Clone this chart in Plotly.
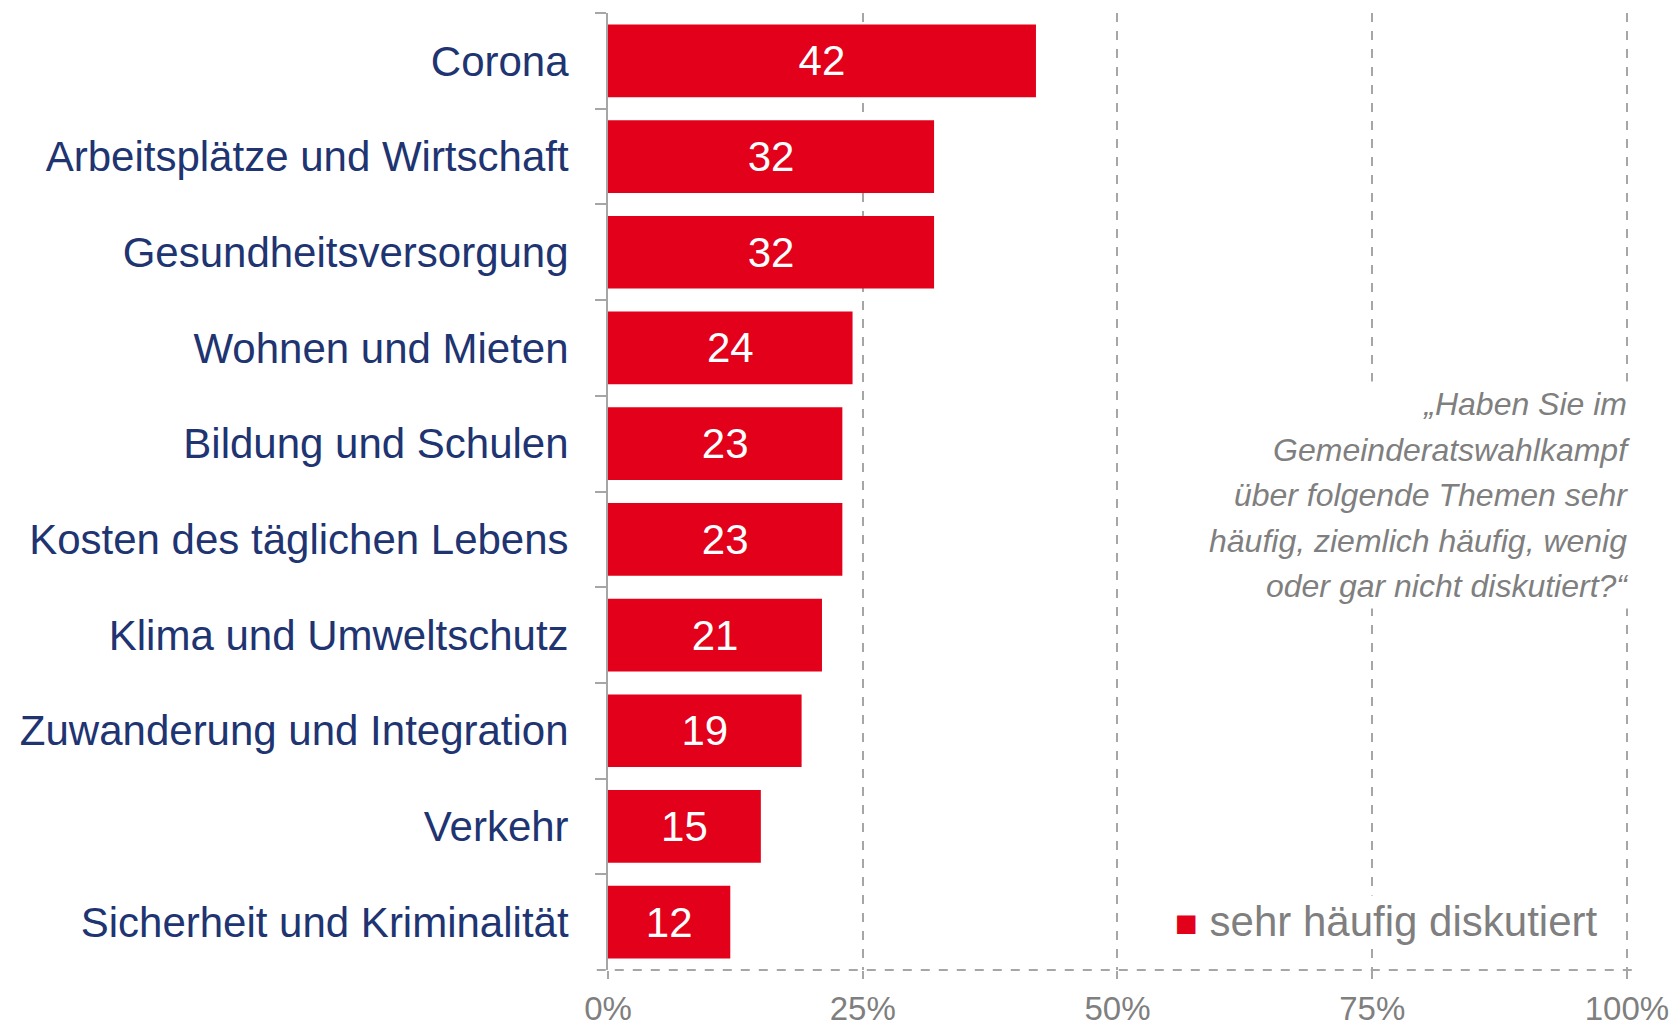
import plotly.graph_objects as go

themen = ["Corona", "Arbeitsplätze und Wirtschaft", "Gesundheitsversorgung",
          "Wohnen und Mieten", "Bildung und Schulen", "Kosten des täglichen Lebens",
          "Klima und Umweltschutz", "Zuwanderung und Integration", "Verkehr",
          "Sicherheit und Kriminalität"]
sehr_haeufig = [42, 32, 32, 24, 23, 23, 21, 19, 15, 12]
x_ticks = [0, 25, 50, 75, 100]
x_ticktext = ["0%", "25%", "50%", "75%", "100%"]

frage = ["„Haben Sie im", "Gemeinderatswahlkampf", "über folgende Themen sehr",
         "häufig, ziemlich häufig, wenig", "oder gar nicht diskutiert?“"]

ROT = "#E2001A"
NAVY = "#203471"
GRAU = "#7f7f7f"
LINIE = "#a6a6a6"
FONT = "Liberation Sans, Arial"

fig = go.Figure()
fig.add_trace(go.Bar(
    x=sehr_haeufig, y=themen, orientation="h",
    name="sehr häufig diskutiert", showlegend=False,
    marker=dict(color=ROT, line=dict(width=0)),
    text=[str(v) for v in sehr_haeufig],
    textposition="inside", insidetextanchor="middle",
    textfont=dict(color="white", size=42, family=FONT),
))

# dashed bottom axis line, a bit longer than the plot area
fig.add_shape(type="line", xref="paper", yref="paper",
              x0=-0.011, x1=1.008, y0=0, y1=0,
              line=dict(color=LINIE, width=2, dash="dash"))

# question text: bigger outer font gives the wider line spacing
frage_html = "<br>".join(f"<span style='font-size:32px'><i>{z}</i></span>" for z in frage)
fig.add_annotation(
    text=frage_html,
    xref="paper", yref="paper", x=1.0, y=0.496, xanchor="right", yanchor="middle",
    xshift=6, align="right", showarrow=False, bgcolor="white", borderpad=4,
    font=dict(size=35, color=GRAU, family=FONT),
)

# legend as text with a square marker
fig.add_annotation(
    text=f"<span style='color:{ROT};font-size:38px'>■</span> sehr häufig diskutiert",
    xref="paper", yref="paper", x=0.972, y=0.051, xanchor="right", yanchor="middle",
    showarrow=False, bgcolor="white", borderpad=2,
    font=dict(size=42, color=GRAU, family=FONT),
)

fig.update_layout(
    width=1664, height=1021,
    margin=dict(l=600, r=43, t=5, b=59),
    plot_bgcolor="white", paper_bgcolor="white",
    bargap=0.24,
    font=dict(family=FONT, color=GRAU),
    showlegend=False,
    xaxis=dict(range=[0, 100.2], tickvals=x_ticks, ticktext=x_ticktext,
               showgrid=True, gridcolor=LINIE, griddash="dash", gridwidth=2,
               zeroline=False, showline=False, automargin=False,
               ticks="outside", ticklen=8, tickcolor=LINIE, tickwidth=2,
               ticklabelstandoff=1,
               tickfont=dict(size=33, color=GRAU, family=FONT)),
    yaxis=dict(range=[9.5, -0.5], type="category", tickson="boundaries",
               showline=True, linecolor=LINIE, linewidth=2,
               ticks="outside", ticklen=11, tickcolor=LINIE, tickwidth=2,
               showgrid=False, automargin=False, ticklabelstandoff=29,
               tickfont=dict(size=42, color=NAVY, family=FONT)),
)

fig.write_html("out.html")
